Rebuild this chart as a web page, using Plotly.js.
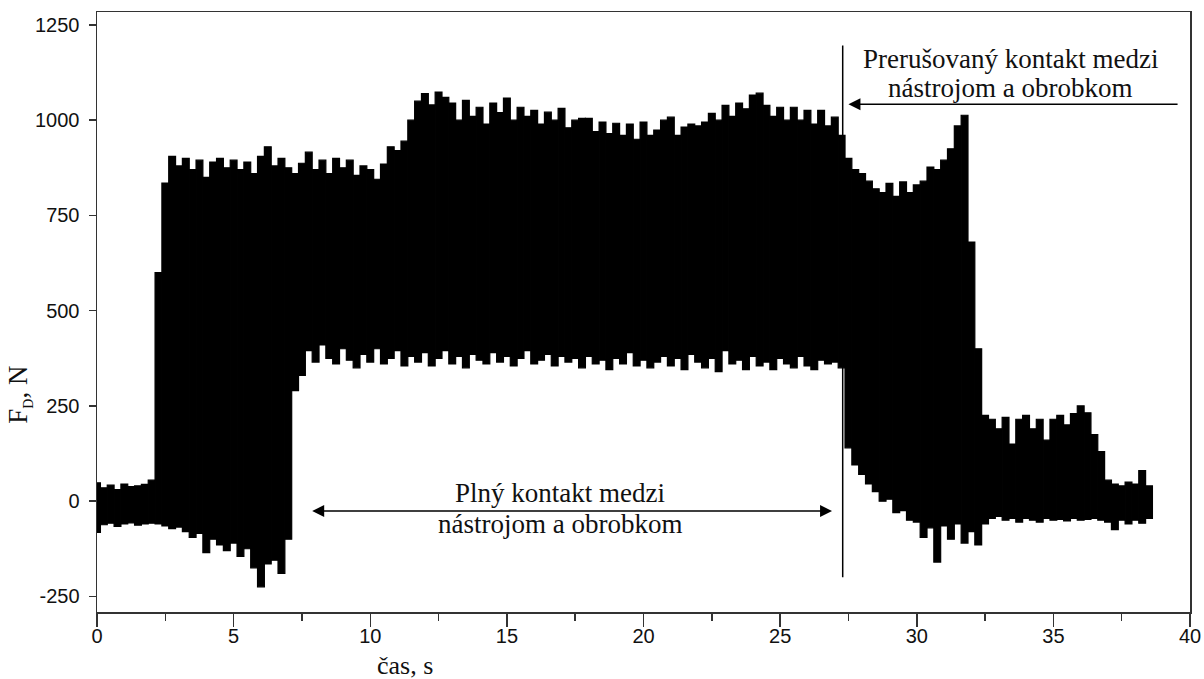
<!DOCTYPE html>
<html><head><meta charset="utf-8">
<script src="https://cdn.plot.ly/plotly-3.0.1.min.js"></script>
<style>html,body{margin:0;padding:0;background:#fff}#chart{width:1204px;height:679px}</style>
</head><body><div id="chart"></div>
<script>
// sample times (s), one every 0.25 s
const time = [
 0,0.25,0.5,0.75, 1,1.25,1.5,1.75, 2,2.25,2.5,2.75, 3,3.25,3.5,3.75,
 4,4.25,4.5,4.75, 5,5.25,5.5,5.75, 6,6.25,6.5,6.75, 7,7.25,7.5,7.75,
 8,8.25,8.5,8.75, 9,9.25,9.5,9.75, 10,10.25,10.5,10.75, 11,11.25,11.5,11.75,
 12,12.25,12.5,12.75, 13,13.25,13.5,13.75, 14,14.25,14.5,14.75, 15,15.25,15.5,15.75,
 16,16.25,16.5,16.75, 17,17.25,17.5,17.75, 18,18.25,18.5,18.75, 19,19.25,19.5,19.75,
 20,20.25,20.5,20.75, 21,21.25,21.5,21.75, 22,22.25,22.5,22.75, 23,23.25,23.5,23.75,
 24,24.25,24.5,24.75, 25,25.25,25.5,25.75, 26,26.25,26.5,26.75, 27,27.25,27.5,27.75,
 28,28.25,28.5,28.75, 29,29.25,29.5,29.75, 30,30.25,30.5,30.75, 31,31.25,31.5,31.75,
 32,32.25,32.5,32.75, 33,33.25,33.5,33.75, 34,34.25,34.5,34.75, 35,35.25,35.5,35.75,
 36,36.25,36.5,36.75, 37,37.25,37.5,37.75, 38,38.25,38.5
];
// upper peaks of F_D (N)
const upper = [
 48,35,42,30, 45,38,40,44, 55,600,835,905, 880,900,870,895,
 850,890,900,875, 895,870,890,860, 905,930,880,900, 875,860,887,916,
 870,895,860,900, 875,895,855,880, 870,845,885,930, 920,945,1000,1050,
 1070,1040,1074,1060, 1045,1000,1052,1010, 1034,990,1045,1020, 1058,1000,1034,1010,
 1026,990,1021,1000, 1031,980,1000,1005, 1005,970,995,965, 992,960,990,950,
 995,960,974,1000, 1008,960,982,990, 985,995,1018,1000, 1039,1010,1045,1030,
 1066,1071,1039,1010, 1034,1000,1034,1000, 1026,990,1026,985, 1008,960,900,870,
 860,840,820,810, 834,800,838,810, 830,840,877,870, 895,925,985,1013,
 680,400,225,215, 190,220,150,215, 225,190,215,160, 215,225,200,230,
 250,232,175,130, 55,45,40,50, 45,80,40
];
// lower troughs of F_D (N)
const lower = [
 -82,-62,-58,-66, -60,-57,-63,-60, -58,-60,-65,-72, -68,-80,-95,-85,
 -135,-100,-115,-130, -110,-145,-125,-175, -225,-165,-155,-190, -100,290,330,395,
 365,410,375,360, 400,370,350,385, 365,400,360,375, 395,355,380,365,
 390,355,375,395, 360,380,350,385, 370,360,390,365, 380,355,375,395,
 360,370,385,355, 380,365,375,350, 380,360,370,345, 375,360,390,355,
 370,350,365,380, 355,375,345,385, 365,350,375,340, 395,360,370,345,
 380,355,365,345, 375,360,350,380, 355,345,370,360, 365,350,140,95,
 70,45,25,0, 5,-30,-25,-50, -55,-95,-70,-160, -65,-100,-60,-110,
 -80,-115,-60,-45, -40,-50,-45,-55, -45,-50,-55,-45, -50,-48,-52,-45,
 -50,-48,-45,-50, -55,-75,-50,-60, -50,-58,-45
];
const xTickVals = [0,5,10,15,20,25,30,35,40];
const xTickText = ['0','5','10','15','20','25','30','35','40'];
const xMinorVals = [2.5,7.5,12.5,17.5,22.5,27.5,32.5,37.5];
const yTickVals = [-250,0,250,500,750,1000,1250];
const yTickText = ['-250','0','250','500','750','1000','1250'];

const span = upper.map((u,i)=>u-lower[i]);

const trace = {
  type:'bar', x: time, y: span, base: lower, width: 0.25,
  marker:{color:'#000', line:{color:'#000', width:1.2}},
  hoverinfo:'skip'
};

const serif = 'Liberation Serif, Times New Roman, serif';
const sans = 'Liberation Sans, Arial, sans-serif';
const axCol = '#333';

const layout = {
  width:1204, height:679,
  margin:{l:97, r:14, t:12, b:67},
  paper_bgcolor:'#fff', plot_bgcolor:'#fff',
  showlegend:false, bargap:0,
  xaxis:{
    range:[0,40], tickmode:'array', tickvals:xTickVals, ticktext:xTickText,
    ticks:'outside', ticklen:13, tickwidth:1.5, tickcolor:axCol,
    minor:{tickmode:'array', tickvals:xMinorVals, ticks:'outside', ticklen:7, tickwidth:1.5, tickcolor:axCol, showgrid:false},
    showline:true, linecolor:axCol, linewidth:1.5, mirror:true,
    showgrid:false, zeroline:false, ticklabelstandoff:-8,
    tickfont:{family:sans, size:20, color:'#111'}
  },
  yaxis:{
    range:[-291,1284], tickmode:'array', tickvals:yTickVals, ticktext:yTickText,
    ticks:'outside', ticklen:7, tickwidth:1.5, tickcolor:axCol,
    showline:true, linecolor:axCol, linewidth:1.5, mirror:true,
    showgrid:false, zeroline:false, ticklabelstandoff:5,
    tickfont:{family:sans, size:20, color:'#111'}
  },
  shapes:[
    {type:'line', xref:'x', yref:'y', x0:27.29, x1:27.29, y0:-200, y1:1196,
     line:{color:'#000', width:1.5}, layer:'above'}
  ],
  annotations:[
    {xref:'paper', yref:'paper', x:0.282, y:-0.089, text:'čas, s', showarrow:false,
     xanchor:'center', yanchor:'middle', font:{family:serif, size:26, color:'#111'}},
    {xref:'paper', yref:'paper', x:-0.0705, y:0.362,
     text:'F<sub><span style="font-size:14px">D</span></sub>, N', showarrow:false,
     textangle:-90, xanchor:'center', yanchor:'middle', font:{family:serif, size:27, color:'#111'}},
    // top annotation
    {xref:'x', yref:'y', x:33.43, y:1160, text:'Prerušovaný kontakt medzi', showarrow:false,
     xanchor:'center', yanchor:'middle', font:{family:serif, size:27, color:'#111'}},
    {xref:'x', yref:'y', x:33.43, y:1084, text:'nástrojom a obrobkom', showarrow:false,
     xanchor:'center', yanchor:'middle', font:{family:serif, size:27, color:'#111'}},
    {xref:'x', yref:'y', x:27.5, y:1042, axref:'x', ayref:'y', ax:39.6, ay:1042, text:'',
     showarrow:true, arrowhead:2, arrowsize:1.6, arrowwidth:1.5, arrowcolor:'#000'},
    // bottom annotation
    {xref:'x', yref:'y', x:16.95, y:21, text:'Plný kontakt medzi', showarrow:false,
     xanchor:'center', yanchor:'middle', font:{family:serif, size:27, color:'#111'}},
    {xref:'x', yref:'y', x:16.95, y:-60, text:'nástrojom a obrobkom', showarrow:false,
     xanchor:'center', yanchor:'middle', font:{family:serif, size:27, color:'#111'}},
    {xref:'x', yref:'y', x:26.9, y:-26, axref:'x', ayref:'y', ax:7.82, ay:-26, text:'',
     showarrow:true, arrowside:'end+start', arrowhead:2, startarrowhead:2,
     arrowsize:1.6, startarrowsize:1.6, arrowwidth:1.5, arrowcolor:'#000'}
  ]
};

Plotly.newPlot('chart', [trace], layout, {staticPlot:true, displayModeBar:false});
</script>
</body></html>
